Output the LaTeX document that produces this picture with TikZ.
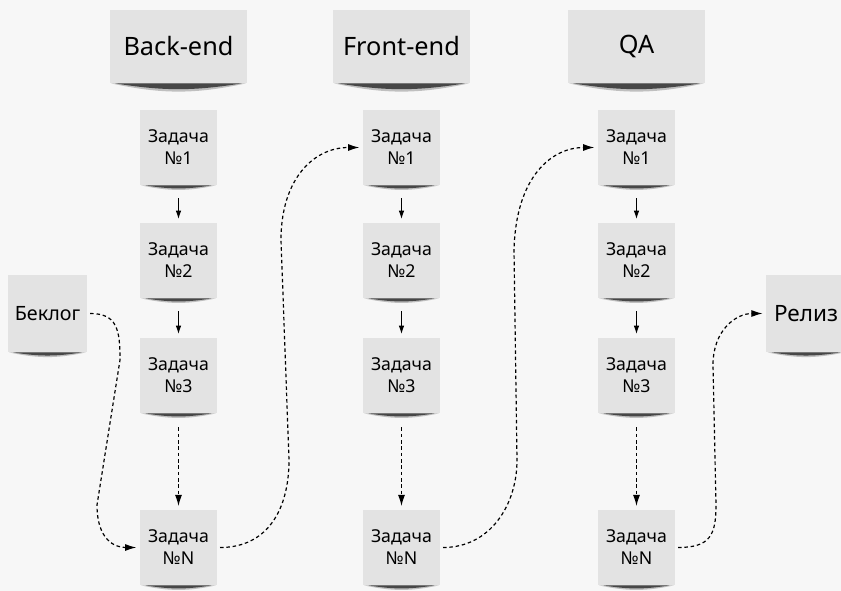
\documentclass[tikz,border=0pt]{standalone}
\usepackage{fontspec}
\setmainfont{Noto Sans}
\usetikzlibrary{arrows.meta}

\definecolor{paper}{HTML}{F7F7F7}
\definecolor{sticky}{HTML}{E3E3E3}

\tikzset{
  sticker/.style={fill=sticky, inner sep=0pt, align=center},
  task/.style={sticker, minimum width=1.92cm, minimum height=1.88cm, font=\fontsize{12.6}{15.6}\selectfont},
  head/.style={sticker, minimum width=3.43cm, minimum height=1.83cm, font=\fontsize{18}{22}\selectfont},
  side/.style={sticker, minimum width=1.98cm, minimum height=1.93cm, font=\fontsize{14}{17}\selectfont},
  link/.style={-{Latex[length=6pt,width=4pt]}, line width=0.8pt, shorten <=9pt, shorten >=2.5pt},
  flow/.style={-{Latex[length=8pt,width=5pt]}, line width=0.85pt, dash pattern=on 2.5pt off 2pt, shorten <=2pt, shorten >=2.5pt},
}

% shadow under a sticker
\newcommand{\stickshadow}[1]{%
  \fill[black!25] ([xshift=1pt]#1.south west) to[bend right=12] ([xshift=-1pt]#1.south east) -- cycle;
  \fill[black!72] ([xshift=4pt]#1.south west) to[bend right=9] ([xshift=-4pt]#1.south east) -- cycle;}

\begin{document}
\begin{tikzpicture}[x=0.025cm, y=0.025cm]
\fill[paper] (0,0) rectangle (841,-591);
\useasboundingbox (0,0) rectangle (841,-591);

\foreach \col/\x/\title in {1/178.5/Back-end, 2/401.5/Front-end, 3/636.5/QA} {
  \node[head] (h\col) at (\x,-46.5) {\title};
  \stickshadow{h\col}
  \foreach \row/\y in {1/147.5, 2/260.5, 3/375.5, N/547.5} {
    \node[task] (t\col\row) at (\x,-\y) {Задача\\№\row};
    \stickshadow{t\col\row}
  }
  \draw[link] (t\col1.south) -- (t\col2.north);
  \draw[link] (t\col2.south) -- (t\col3.north);
  \draw[flow, shorten <=10pt] (t\col3.south) -- (t\col N.north);
}

\node[side] (blog) at (47.5,-313.5) {Беклог};
\stickshadow{blog}
\node[side, font=\fontsize{16}{19}\selectfont] (rel) at (806,-313.5) {Релиз};
\stickshadow{rel}

\draw[flow] (blog.east) .. controls +(30,0) and +(0,30) .. (120,-360) -- (97,-505) .. controls +(0,-35) and +(-25,0) .. (t1N.west);
\draw[flow] (t1N.east) .. controls +(50,0) and +(0,-50) .. (289,-460) -- (281,-240) .. controls +(0,60) and +(-50,0) .. (t21.west);
\draw[flow] (t2N.east) .. controls +(50,0) and +(0,-45) .. (517,-460) -- (514,-250) .. controls +(2,75) and +(-45,0) .. (t31.west);
\draw[flow] (t3N.east) .. controls +(35,0) and +(0,-30) .. (716,-505) -- (713,-365) .. controls +(0,35) and +(-30,0) .. (rel.west);
\end{tikzpicture}
\end{document}
